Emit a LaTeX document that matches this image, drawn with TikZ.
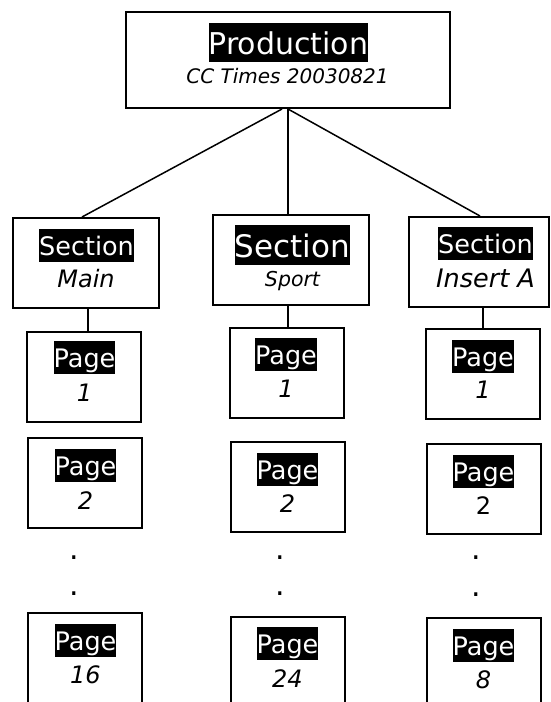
\documentclass[tikz,border=0pt]{standalone}
\usepackage{fontspec}
\setmainfont{DejaVu Sans}
\newcommand{\hlbox}[1]{{\setlength{\fboxsep}{0pt}\colorbox{black}{\color{white}\rule[-0.25em]{0pt}{1.3em}#1}}}
\newcommand{\fs}[1]{\fontsize{#1}{#1}\selectfont}
\tikzset{
  box/.style={draw=black, line width=2pt, rectangle, inner sep=0pt, fill=white},
  lab/.style={anchor=base, inner sep=0pt, text=black},
  conn/.style={draw=black, line width=1.5pt},
  pg/.style={box, minimum width=114pt, minimum height=90pt},
  pglast/.style={box, minimum width=114pt, minimum height=100pt},
  dotlab/.style={lab, font=\fs{30}},
}
\begin{document}
\begin{tikzpicture}[x=1pt,y=-1pt]
\useasboundingbox (0,0) rectangle (551,702);
\clip (0,0) rectangle (551,702);
% boxes
\node[box, minimum width=324pt, minimum height=96pt] (prod) at (288,60) {};
\node[box, minimum width=146pt, minimum height=90pt] (sm) at (86,263) {};
\node[box, minimum width=156pt, minimum height=90pt] (ss) at (291,260) {};
\node[box, minimum width=140pt, minimum height=90pt] (si) at (479,262) {};
\node[pg] (pm1) at (84,377) {};
\node[pg] (ps1) at (287,373) {};
\node[pg] (pi1) at (483,374) {};
\node[pg] (pm2) at (85,483) {};
\node[pg] (ps2) at (288,487) {};
\node[pg] (pi2) at (484,489) {};
\node[pglast] (pm3) at (85,663) {};
\node[pglast] (ps3) at (288,667) {};
\node[pglast] (pi3) at (484,668) {};
% connectors
\draw[conn] ([xshift=-6pt]prod.south) -- ([xshift=-4pt]sm.north);
\draw[conn] (prod.south) -- (prod.south |- ss.north);
\draw[conn] (prod.south) -- ([xshift=1pt]si.north);
\draw[conn] ([xshift=2pt]sm.south) -- ([xshift=2pt]sm.south |- pm1.north);
\draw[conn] ([xshift=-3pt]ss.south) -- ([xshift=-3pt]ss.south |- ps1.north);
\draw[conn] ([xshift=4pt]si.south) -- ([xshift=4pt]si.south |- pi1.north);
% texts
\node[lab, font=\fs{30}] (tprod) at (288.5,54.5) {\hlbox{Production}};
\node[lab, font=\fs{20}\itshape] (tprod2) at (287.5,83) {CC Times 20030821};
\node[lab, font=\fs{25.5}] (tsm) at (86.5,255.6) {\hlbox{Section}};
\node[lab, font=\fs{24}\itshape] (tsm2) at (86,287) {Main};
\node[lab, font=\fs{31}] (tss) at (292.5,257.2) {\hlbox{Section}};
\node[lab, font=\fs{20.5}\itshape] (tss2) at (292.5,286) {Sport};
\node[lab, font=\fs{25.5}] (tsi) at (485.5,253.6) {\hlbox{Section}};
\node[lab, font=\fs{25.5}\itshape] (tsi2) at (485.5,287) {Insert A};
% pages
\node[lab, font=\fs{25.5}] (tpm1) at (84.5,367.6) {\hlbox{Page}};
\node[lab, font=\fs{24}\itshape] (npm1) at (84.5,401) {1};
\node[lab, font=\fs{25.5}] (tps1) at (286,364.6) {\hlbox{Page}};
\node[lab, font=\fs{24}\itshape] (nps1) at (286,397) {1};
\node[lab, font=\fs{25.5}] (tpi1) at (483,366.6) {\hlbox{Page}};
\node[lab, font=\fs{24}\itshape] (npi1) at (483,398) {1};
\node[lab, font=\fs{25.5}] (tpm2) at (85.5,475.6) {\hlbox{Page}};
\node[lab, font=\fs{24}\itshape] (npm2) at (85.5,509) {2};
\node[lab, font=\fs{25.5}] (tps2) at (287.5,479.6) {\hlbox{Page}};
\node[lab, font=\fs{24}\itshape] (nps2) at (287.5,512) {2};
\node[lab, font=\fs{25.5}] (tpi2) at (483.5,481.6) {\hlbox{Page}};
\node[lab, font=\fs{24}] (npi2) at (483.5,514) {2};
\node[lab, font=\fs{25.5}] (tpm3) at (85.5,650.6) {\hlbox{Page}};
\node[lab, font=\fs{24}\itshape] (npm3) at (85.5,683) {16};
\node[lab, font=\fs{25.5}] (tps3) at (287.5,653.6) {\hlbox{Page}};
\node[lab, font=\fs{24}\itshape] (nps3) at (287.5,687) {24};
\node[lab, font=\fs{25.5}] (tpi3) at (483.5,655.6) {\hlbox{Page}};
\node[lab, font=\fs{24}\itshape] (npi3) at (483.5,688) {8};
% dots
\node[dotlab] (dm1) at (74,559.5) {.};
\node[dotlab] (dm2) at (74,595.5) {.};
\node[dotlab] (ds1) at (280,559.5) {.};
\node[dotlab] (ds2) at (280,595.5) {.};
\node[dotlab] (di1) at (476,559.5) {.};
\node[dotlab] (di2) at (476,596.5) {.};
\end{tikzpicture}
\end{document}
